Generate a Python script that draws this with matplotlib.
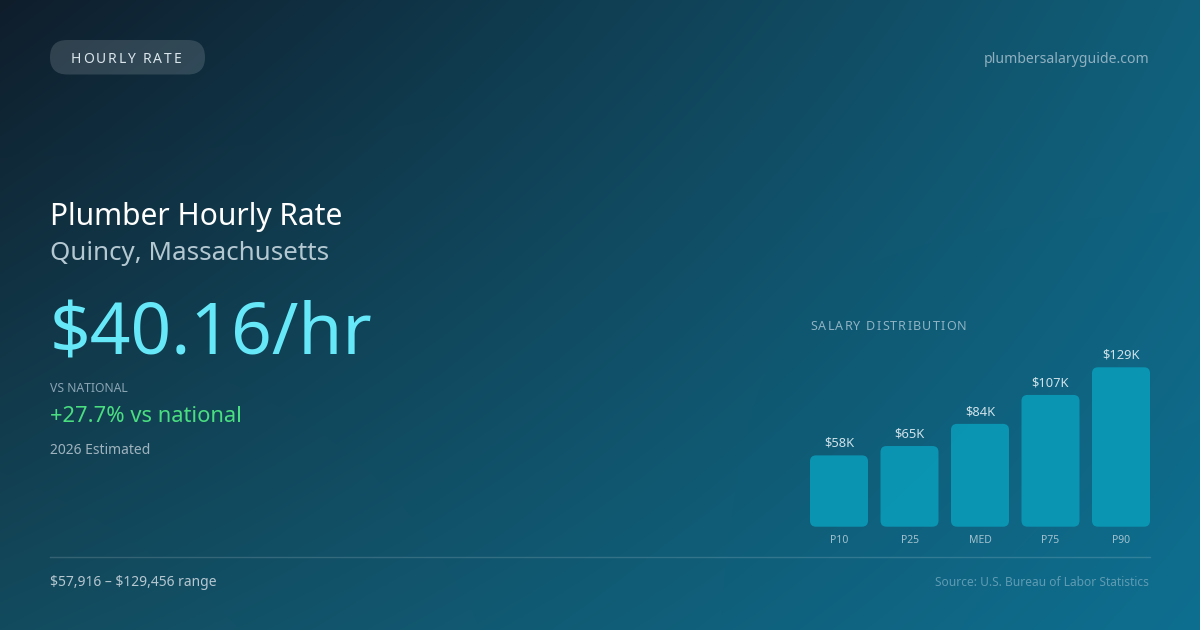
import matplotlib
matplotlib.use("Agg")
import matplotlib.pyplot as plt
import numpy as np
from matplotlib.patches import FancyBboxPatch

plt.rcParams["font.family"] = ["Noto Sans", "DejaVu Sans"]

# data
categories = ["P10", "P25", "MED", "P75", "P90"]
salaries = [57916, 65500, 83500, 107000, 129456]
bar_labels = ["$58K", "$65K", "$84K", "$107K", "$129K"]

badge_text = "HOURLY RATE"
site_text = "plumbersalaryguide.com"
title_text = "Plumber Hourly Rate"
location_text = "Quincy, Massachusetts"
rate_text = "$40.16/hr"
compare_label = "VS NATIONAL"
compare_text = "+27.7% vs national"
year_text = "2026 Estimated"
range_text = "$57,916 \u2013 $129,456 range"
source_text = "Source: U.S. Bureau of Labor Statistics"
dist_title = "SALARY DISTRIBUTION"

W, H = 1200, 630
fig = plt.figure(figsize=(12, 6.3), dpi=100)

# background: bilinear blend of the four corner colours
bg = fig.add_axes([0, 0, 1, 1])
bg.set_xlim(0, W)
bg.set_ylim(H, 0)
bg.axis("off")
u = np.linspace(0, 1, W)[None, :, None]
v = np.linspace(0, 1, H)[:, None, None]
tl = np.array([15, 29, 43]) / 255
tr = np.array([17, 95, 122]) / 255
bl = np.array([19, 75, 94]) / 255
br = np.array([14, 111, 144]) / 255
img = (tl * (1 - u) * (1 - v) + tr * u * (1 - v) + bl * (1 - u) * v + br * u * v)
bg.imshow(img, extent=(0, W, H, 0), aspect="auto", zorder=0)

renderer = fig.canvas.get_renderer()


def spaced_text(ax, x, y, s, spacing, **kw):
    # draw text with letter spacing, one char at a time
    for ch in s:
        t = ax.text(x, y, ch, va="baseline", ha="left", **kw)
        w = t.get_window_extent(renderer).width
        if ch == " ":
            w = kw.get("fontsize", 10) * 100 / 72 * 0.26
        x += w + spacing


# badge pill
pill = FancyBboxPatch((50, 40), 155, 34.5,
                      boxstyle="round,pad=0,rounding_size=17.25",
                      facecolor=(1, 1, 1, 0.14), edgecolor="none", zorder=2)
bg.add_patch(pill)
spaced_text(bg, 71, 63.3, badge_text, 1.8, fontsize=10, color="#dbe6ec", zorder=3)

bg.text(1149, 63.3, site_text, ha="right", va="baseline", fontsize=10.1,
        color="#8fb0c0", zorder=3)

bg.text(50, 224.5, title_text, ha="left", va="baseline", fontsize=21.6,
        color="#ffffff", zorder=3)
bg.text(50, 260, location_text, ha="left", va="baseline", fontsize=18.7,
        color="#b4c8d2", zorder=3)
bg.text(50, 355, rate_text, ha="left", va="baseline", fontsize=51.3,
        color="#67e8f9", zorder=3)
bg.text(50, 392.3, compare_label, ha="left", va="baseline", fontsize=8.8,
        color="#8aa4b2", zorder=3)
bg.text(50, 421.5, compare_text, ha="left", va="baseline", fontsize=15.8,
        color="#4ade80", zorder=3)
bg.text(50, 454.3, year_text, ha="left", va="baseline", fontsize=10,
        color="#9fb3be", zorder=3)

bg.plot([50, 1150], [556.5, 556.5], color=(1, 1, 1, 0.15), lw=1, zorder=2)
bg.text(50, 586, range_text, ha="left", va="baseline", fontsize=10,
        color="#b6c7d0", zorder=3, parse_math=False)
bg.text(1149, 586, source_text, ha="right", va="baseline", fontsize=8.6,
        color="#5f9bb3", zorder=3)

spaced_text(bg, 810, 330, dist_title, 1.2, fontsize=9, color="#8fb3c4", zorder=3)

# bar chart
left_px, right_px, bottom_px, top_px = 810, 1150, 526.7, 367.3
step = 70.5
bar_w = 58 / step
ax = fig.add_axes([left_px / W, 1 - bottom_px / H,
                   (right_px - left_px) / W, (bottom_px - top_px) / H])
ax.patch.set_alpha(0)
ax.axis("off")
n = len(categories)
ax.set_xlim(-bar_w / 2, n - 1 + bar_w / 2)
ax.set_ylim(0, max(salaries))

px_x = (n - 1 + bar_w) / (right_px - left_px)
px_y = max(salaries) / (bottom_px - top_px)
radius = 6
for i, v in enumerate(salaries):
    box = FancyBboxPatch((i - bar_w / 2, 0), bar_w, v,
                         boxstyle=f"round,pad=0,rounding_size={radius * px_x}",
                         mutation_aspect=px_y / px_x,
                         facecolor="#0a98b6", edgecolor="none", alpha=0.95,
                         clip_on=False)
    ax.add_patch(box)
    ax.text(i, v + 8.7 * px_y, bar_labels[i], ha="center", va="baseline",
            fontsize=9.3, color="#cfe2ea", clip_on=False)
    ax.text(i, -16 * px_y, categories[i], ha="center", va="baseline",
            fontsize=7.5, color="#a3c2cf", clip_on=False)

fig.savefig("out.png", dpi=100)
